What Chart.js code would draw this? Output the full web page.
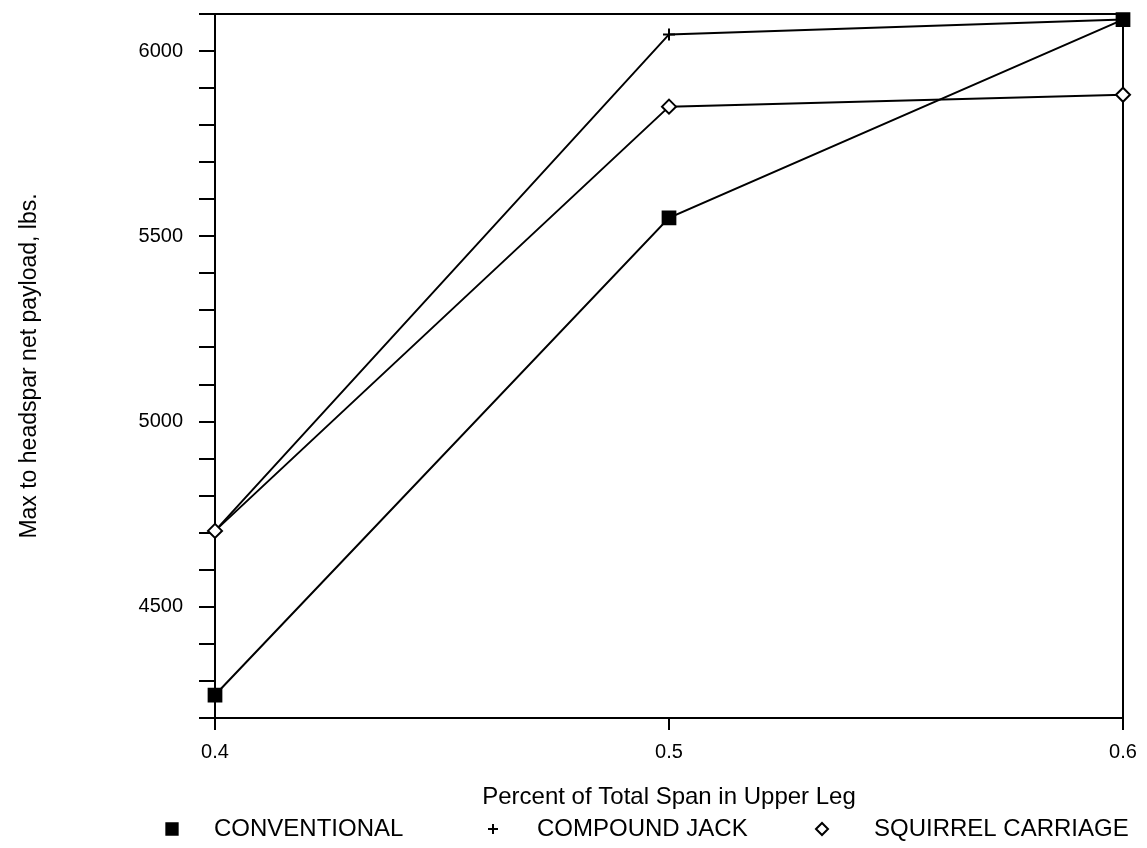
<!DOCTYPE html>
<html><head><meta charset="utf-8">
<script src="https://cdn.jsdelivr.net/npm/chart.js@4.4.1/dist/chart.umd.min.js"></script>
<style>html,body{margin:0;padding:0;background:#fff}#wrap{width:1147px;height:848px;position:relative}</style>
</head><body><div id="wrap"><canvas id="c" width="1147" height="848"></canvas></div>
<script>
// ---- data ----
const xValues = [0.4, 0.5, 0.6];
const conventional = [4262, 5550, 6085];
const compoundJack = [4705, 6045, 6085];
const squirrelCarriage = [4705, 5850, 5882];
const seriesNames = ['CONVENTIONAL', 'COMPOUND JACK', 'SQUIRREL CARRIAGE'];
const yLabelValues = [4500, 5000, 5500, 6000];
const xTickLabels = ['0.4', '0.5', '0.6'];
const xTitle = 'Percent of Total Span in Upper Leg';
const yTitle = 'Max to headspar net payload, lbs.';

const FONT = '"Liberation Sans", Arial, Helvetica, sans-serif';
const toPts = arr => arr.map((v, i) => ({x: xValues[i], y: v}));

const styles = [
  {pointStyle: 'rect', radius: 9, bg: '#000', order: 0},
  {pointStyle: 'cross', radius: 6, bg: '#000', order: 2},
  {pointStyle: 'rectRot', radius: 7, bg: '#fff', order: 1}
];
const seriesData = [conventional, compoundJack, squirrelCarriage];

const datasets = seriesData.map((d, i) => ({
  label: seriesNames[i],
  data: toPts(d),
  borderColor: '#000',
  borderWidth: 2,
  backgroundColor: styles[i].bg,
  pointStyle: styles[i].pointStyle,
  pointRadius: styles[i].radius,
  pointBorderWidth: 2,
  pointBorderColor: '#000',
  pointBackgroundColor: styles[i].bg,
  showLine: true,
  tension: 0,
  order: styles[i].order,
  clip: false
}));

const framePlugin = {
  id: 'frame',
  beforeDatasetsDraw(chart) {
    const {ctx, chartArea: a} = chart;
    ctx.save();
    ctx.strokeStyle = '#000';
    ctx.lineWidth = 2;
    ctx.beginPath();
    ctx.moveTo(a.left, a.top);
    ctx.lineTo(a.right, a.top);
    ctx.lineTo(a.right, a.bottom);
    ctx.stroke();
    ctx.restore();
  }
};

const legendItems = [
  {marker: 172, text: 214},
  {marker: 493, text: 537},
  {marker: 822, text: 874}
];
const legendPlugin = {
  id: 'bottomLegend',
  afterDraw(chart) {
    const ctx = chart.ctx;
    const y = 829;
    ctx.save();
    legendItems.forEach((it, i) => {
      const st = styles[i];
      ctx.fillStyle = st.bg;
      ctx.strokeStyle = '#000';
      ctx.lineWidth = 2;
      Chart.helpers.drawPoint(ctx, {pointStyle: st.pointStyle, radius: st.radius - 1, rotation: 0, borderWidth: 2}, it.marker, y);
      ctx.fillStyle = '#000';
      ctx.font = '24px ' + FONT;
      ctx.textBaseline = 'middle';
      ctx.textAlign = 'left';
      ctx.fillText(seriesNames[i], it.text, y);
    });
    ctx.restore();
  }
};

new Chart(document.getElementById('c'), {
  type: 'scatter',
  data: {datasets},
  options: {
    responsive: false,
    devicePixelRatio: 1,
    animation: false,
    layout: {padding: {left: 0, right: 24, top: 0, bottom: 36}},
    plugins: {legend: {display: false}, tooltip: {enabled: false}},
    scales: {
      x: {
        type: 'linear',
        min: 0.4, max: 0.6,
        afterFit: s => { s.height = 94; s.paddingLeft = 0; },
        afterBuildTicks: s => { s.ticks = xValues.map(v => ({value: v})); },
        ticks: {
          color: '#000',
          font: {family: FONT, size: 20},
          padding: 10,
          maxRotation: 0,
          callback: (v, i) => xTickLabels[i]
        },
        grid: {drawOnChartArea: false, drawTicks: true, tickLength: 12, color: '#000', lineWidth: 2},
        border: {display: true, color: '#000', width: 2},
        title: {display: true, text: xTitle, color: '#000', font: {family: FONT, size: 24}, padding: {top: 0, bottom: 0}}
      },
      y: {
        type: 'linear',
        min: 4200, max: 6100,
        afterFit: s => { s.width = 215; s.paddingTop = 14; s.paddingBottom = 0; },
        ticks: {
          stepSize: 100,
          color: '#000',
          font: {family: FONT, size: 20},
          padding: 16,
          callback: v => (yLabelValues.includes(v) ? String(v) : '')
        },
        grid: {drawOnChartArea: false, drawTicks: true, tickLength: 16, color: '#000', lineWidth: 2},
        border: {display: true, color: '#000', width: 2},
        title: {display: true, text: yTitle, color: '#000', font: {family: FONT, size: 23}, padding: {top: 16, bottom: 0}}
      }
    }
  },
  plugins: [framePlugin, legendPlugin]
});
</script>
</body></html>
